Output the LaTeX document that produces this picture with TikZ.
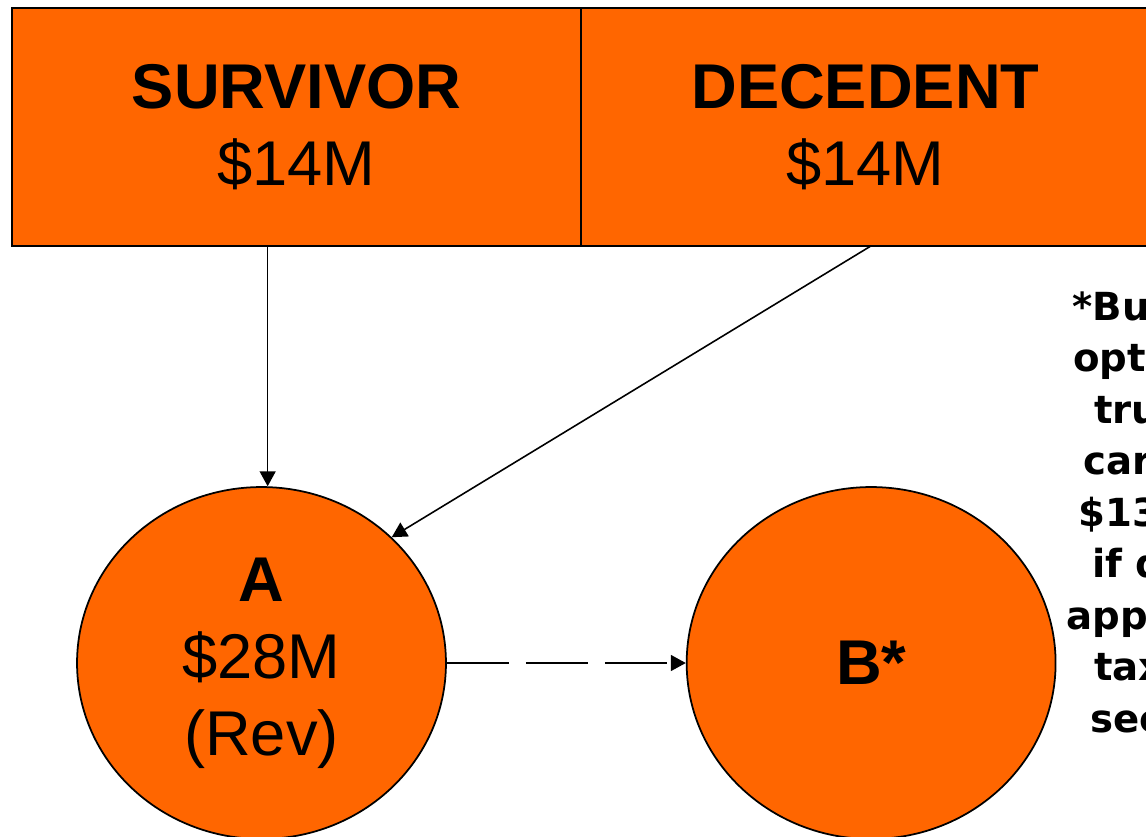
\documentclass[tikz,border=0pt]{standalone}
\usepackage{fontspec}
\setmainfont{Liberation Sans}
\newfontfamily\notefont{DejaVu Sans}
\usetikzlibrary{arrows.meta,positioning,shapes.geometric}
\definecolor{trustorange}{RGB}{255,102,0}
\tikzset{%
	share/.style  = {draw, rectangle, fill=trustorange, line width=1.1pt, outer sep=0pt, inner sep=0pt, minimum width=11.38cm, minimum height=4.76cm, align=center, font=\fontsize{36}{43.7}\selectfont}, % Estate half
	trust/.style  = {draw, ellipse, fill=trustorange, line width=1pt, inner sep=0pt, minimum width=7.38cm, minimum height=7.04cm, align=center, font=\fontsize{36}{43.7}\selectfont}, % Trust
	note/.style   = {anchor=base west, inner sep=0pt, font=\notefont\bfseries\fontsize{22}{26}\selectfont}, % Side note
	arrow/.style  = {line width=0.9pt, -{Triangle[length=0.3cm,width=0.32cm]}},
}

\begin{document}
\begin{tikzpicture}[x=0.02cm, y=-0.02cm, node distance=4.78cm]
	\clip (0,0) rectangle (1146,836);
	\node[share] (surv) at (296.5,127) {\textbf{SURVIVOR}\\ \$14M};
	\node[share,right=0pt of surv] (dec) {\textbf{DECEDENT}\\ \$14M};
	\node[trust] (A) at (261.5,663) {\textbf{A}\\ \$28M\\ (Rev)};
	\node[trust,right=of A] (B) {\textbf{B*}};
	\foreach \nx/\frag [count=\k from 0] in {1072/*Bu, 1073/opt, 1094/tru, 1083/car, 1078/\$13, 1092/if d, 1066/app, 1094/tax, 1090/sec}
		\node[note] (note\k) at (\nx, 320+51.5*\k) {\frag};
	
	\draw[arrow] (surv.south -| A.88) -- (A.88);
	\draw[arrow] ([xshift=0.11cm]dec.south) -- (A.44);
	\draw[arrow,dash pattern=on 1.24cm off 0.34cm] (A.east) -- (B.west);
\end{tikzpicture}
\end{document}
